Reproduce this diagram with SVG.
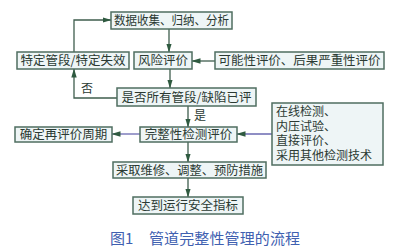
<svg xmlns="http://www.w3.org/2000/svg" width="400" height="251" viewBox="0 0 400 251">
<defs>
<style>
.box{fill:#eef5f6;stroke:#4f6e60;stroke-width:1.5}
.t{font-family:"Noto Sans CJK SC","Noto Sans",sans-serif;font-size:12.5px;fill:#2b3a33;text-anchor:middle}
.tl{font-family:"Noto Sans CJK SC","Noto Sans",sans-serif;font-size:12px;fill:#2b3a33}
.c{fill:none;stroke:#3f5e4e;stroke-width:1.3}
.cp{fill:none;stroke:#6a68b0;stroke-width:1.3}
.lbl{font-family:"Noto Sans CJK SC","Noto Sans",sans-serif;font-size:12px;fill:#2b3a33}
.cap{font-family:"Noto Sans CJK SC","Noto Sans",sans-serif;font-size:15px;fill:#4060b0}
</style>
<marker id="ah" markerWidth="9" markerHeight="6" refX="8.5" refY="3" orient="auto" markerUnits="userSpaceOnUse">
<path d="M0,0.3 L9,3 L0,5.7 Z" fill="#2f5a40"/>
</marker>
</defs>
<rect width="400" height="251" fill="#ffffff"/>
<g id="connectors">
<path class="c" d="M169,29 V52" marker-end="url(#ah)"/>
<path class="c" d="M215,61 H192" marker-end="url(#ah)"/>
<path class="c" d="M170,69 V88" marker-end="url(#ah)"/>
<path class="c" d="M117,98 H74 V69" marker-end="url(#ah)"/>
<path class="c" d="M74,52 V20 H111" marker-end="url(#ah)"/>
<path class="c" d="M188,106 V127" marker-end="url(#ah)"/>
<path class="cp" d="M140,134 H112" marker-end="url(#ah)"/>
<path class="cp" d="M272,134 H237" marker-end="url(#ah)"/>
<path class="c" d="M188,142 V162" marker-end="url(#ah)"/>
<path class="c" d="M188,178 V197" marker-end="url(#ah)"/>
<text class="lbl" x="81" y="93">否</text>
<text class="lbl" x="194" y="120">是</text>
</g>
<g id="n-data">
<rect class="box" x="111" y="12" width="121" height="17"/>
<text class="t" x="171.5" y="25" textLength="115" lengthAdjust="spacingAndGlyphs">数据收集、归纳、分析</text>
</g>
<g id="n-specific">
<rect class="box" x="17" y="52" width="112" height="17"/>
<text class="t" x="73" y="65">特定管段/特定失效</text>
</g>
<g id="n-risk">
<rect class="box" x="134" y="52" width="58" height="17"/>
<text class="t" x="163" y="65">风险评价</text>
</g>
<g id="n-prob">
<rect class="box" x="215" y="52" width="169" height="17"/>
<text class="t" x="299.5" y="65" textLength="162" lengthAdjust="spacingAndGlyphs">可能性评价、后果严重性评价</text>
</g>
<g id="n-all">
<rect class="box" x="117" y="88" width="139" height="18"/>
<text class="t" x="186.5" y="101.5">是否所有管段/缺陷已评</text>
</g>
<g id="n-integrity">
<rect class="box" x="140" y="127" width="97" height="15"/>
<text class="t" x="188.5" y="139">完整性检测评价</text>
</g>
<g id="n-period">
<rect class="box" x="15" y="127" width="97" height="15"/>
<text class="t" x="63.5" y="139">确定再评价周期</text>
</g>
<g id="n-methods">
<rect class="box" x="272" y="103" width="111" height="62"/>
<text class="tl" x="276" y="116"><tspan x="276" y="116">在线检测、</tspan><tspan x="276" y="130.5">内压试验、</tspan><tspan x="276" y="145">直接评价、</tspan><tspan x="276" y="159.5">采用其他检测技术</tspan></text>
</g>
<g id="n-repair">
<rect class="box" x="113" y="162" width="153" height="16"/>
<text class="t" x="189.5" y="174.5" textLength="147" lengthAdjust="spacingAndGlyphs">采取维修、调整、预防措施</text>
</g>
<g id="n-target">
<rect class="box" x="133" y="197" width="110" height="17"/>
<text class="t" x="188" y="210">达到运行安全指标</text>
</g>
<text class="cap" x="110" y="244">图1</text>
<text class="cap" x="149" y="244" textLength="151" lengthAdjust="spacing">管道完整性管理的流程</text>
</svg>
